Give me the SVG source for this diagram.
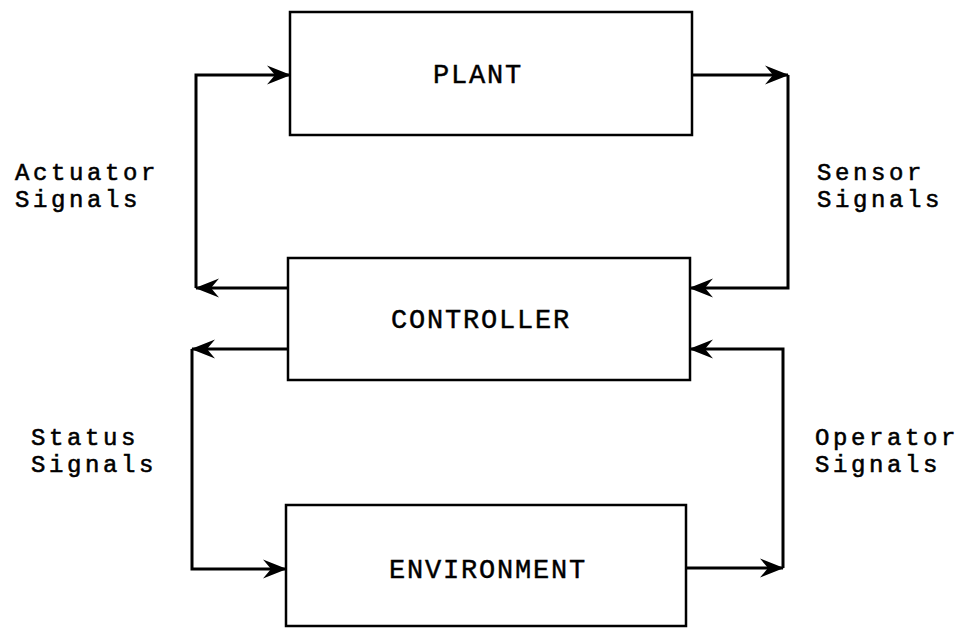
<svg xmlns="http://www.w3.org/2000/svg" width="971" height="628" viewBox="0 0 971 628">
  <style>
    .box { fill: #fff; stroke: #000; stroke-width: 2.5; }
    .wire { fill: none; stroke: #000; stroke-width: 3; stroke-linejoin: miter; }
    .lbl { font-family: "Liberation Mono", "Courier New", monospace; font-size: 27px; letter-spacing: 1.8px; fill: #000; stroke: #000; stroke-width: 0.45; }
    .side { font-family: "Liberation Mono", "Courier New", monospace; font-size: 24px; letter-spacing: 3.6px; fill: #000; stroke: #000; stroke-width: 0.55; }
  </style>
  <defs>
    <marker id="barb" viewBox="-25 -11 27 22" refX="0" refY="0" markerWidth="27" markerHeight="22" markerUnits="userSpaceOnUse" orient="auto">
      <path d="M1,0 L-23,-9.5 L-15,0 L-23,9.5 Z" fill="#000"/>
    </marker>
  </defs>
  <rect width="971" height="628" fill="#fff"/>

  <g id="connectors">
    <!-- actuator signals: controller -> plant -->
    <path class="wire" d="M288,288 H196" marker-end="url(#barb)"/>
    <path class="wire" d="M196,288 V75 H290" marker-end="url(#barb)"/>
    <!-- sensor signals: plant -> controller -->
    <path class="wire" d="M692,75 H788" marker-end="url(#barb)"/>
    <path class="wire" d="M788,75 V288 H690" marker-end="url(#barb)"/>
    <!-- status signals: controller -> environment -->
    <path class="wire" d="M288,349 H192" marker-end="url(#barb)"/>
    <path class="wire" d="M192,349 V569 H286" marker-end="url(#barb)"/>
    <!-- operator signals: environment -> controller -->
    <path class="wire" d="M686,568 H783" marker-end="url(#barb)"/>
    <path class="wire" d="M783,568 V349 H690" marker-end="url(#barb)"/>
  </g>

  <g id="plant">
    <rect class="box" x="290" y="12" width="402" height="123"/>
    <text class="lbl" x="433" y="83">PLANT</text>
  </g>
  <g id="controller">
    <rect class="box" x="288" y="258" width="402" height="122"/>
    <text class="lbl" x="391" y="328">CONTROLLER</text>
  </g>
  <g id="environment">
    <rect class="box" x="286" y="505" width="400" height="121"/>
    <text class="lbl" x="389" y="578">ENVIRONMENT</text>
  </g>

  <g id="labels">
    <text class="side"><tspan x="15" y="180">Actuator</tspan><tspan x="15" y="207">Signals</tspan></text>
    <text class="side"><tspan x="817" y="180">Sensor</tspan><tspan x="817" y="207">Signals</tspan></text>
    <text class="side"><tspan x="31" y="445">Status</tspan><tspan x="31" y="472">Signals</tspan></text>
    <text class="side"><tspan x="815" y="445">Operator</tspan><tspan x="815" y="472">Signals</tspan></text>
  </g>
</svg>
